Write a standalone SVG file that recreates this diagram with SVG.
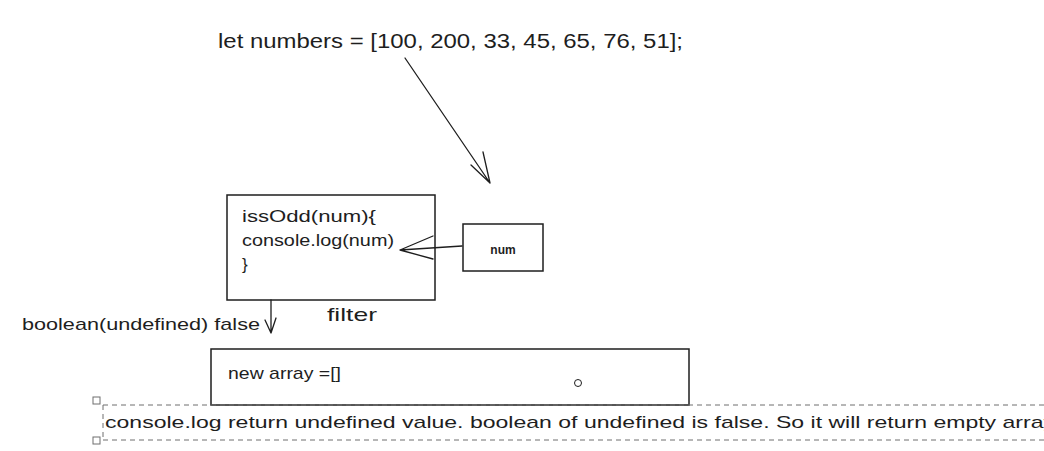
<svg xmlns="http://www.w3.org/2000/svg" width="1044" height="451" viewBox="0 0 1044 451">
<defs>
<style>
.t{font-family:"Liberation Sans",Arial,sans-serif;fill:#1e1e1e}
.b{fill:none;stroke:#1e1e1e;stroke-width:1.5}
.c{fill:none;stroke:#1e1e1e;stroke-width:1.3;stroke-linecap:round}
.d{fill:none;stroke:#6e6e6e;stroke-width:1;stroke-dasharray:5 4}
.h{fill:#fff;stroke:#6e6e6e;stroke-width:1}
</style>
</defs>
<rect width="1044" height="451" fill="#fff"/>
<g id="numbers-text"><text class="t" x="218" y="48" font-size="20" textLength="465" lengthAdjust="spacingAndGlyphs">let numbers = [100, 200, 33, 45, 65, 76, 51];</text></g>
<g id="issodd-box">
<rect class="b" x="227" y="195" width="208" height="105"/>
<text class="t" font-size="17" x="242" y="222" textLength="134" lengthAdjust="spacingAndGlyphs">issOdd(num){</text>
<text class="t" font-size="17" x="242" y="246" textLength="152" lengthAdjust="spacingAndGlyphs">console.log(num)</text>
<text class="t" font-size="17" x="242" y="270">}</text>
</g>
<g id="num-box">
<rect class="b" x="463" y="224" width="80" height="47"/>
<text class="t" font-size="12" font-weight="bold" x="503" y="254" text-anchor="middle">num</text>
</g>
<g id="filter-label"><text class="t" font-size="19" x="327" y="321" textLength="50" lengthAdjust="spacingAndGlyphs">filter</text></g>
<g id="boolean-label"><text class="t" font-size="17" x="22" y="330" textLength="238" lengthAdjust="spacingAndGlyphs">boolean(undefined) false</text></g>
<g id="new-array-box">
<rect class="b" x="211" y="349" width="478" height="56"/>
<text class="t" font-size="17" x="228" y="379" textLength="113" lengthAdjust="spacingAndGlyphs">new array =[]</text>
<circle cx="578" cy="383" r="3.5" fill="none" stroke="#1e1e1e" stroke-width="1"/>
</g>
<g id="note">
<line class="d" x1="103" y1="405" x2="1044" y2="405"/>
<line class="d" x1="103" y1="440" x2="1044" y2="440"/>
<line class="d" x1="103" y1="405" x2="103" y2="440"/>
<rect class="h" x="93" y="397" width="7" height="7"/>
<rect class="h" x="93" y="437" width="7" height="7"/>
<text class="t" font-size="17" x="105" y="428" textLength="950" lengthAdjust="spacingAndGlyphs">console.log return undefined value. boolean of undefined is false. So it will return empty array</text>
</g>
<g id="connectors">
<path class="c" d="M405 58 L490 183 M490 183 L471 165 M490 183 L483 152"/>
<path class="c" d="M462 246 L400 250 M400 250 L433 236 M400 250 L433 259"/>
<path class="c" d="M271 300 L271 333 M271 333 L265 320 M271 333 L276 318"/>
</g>
</svg>
